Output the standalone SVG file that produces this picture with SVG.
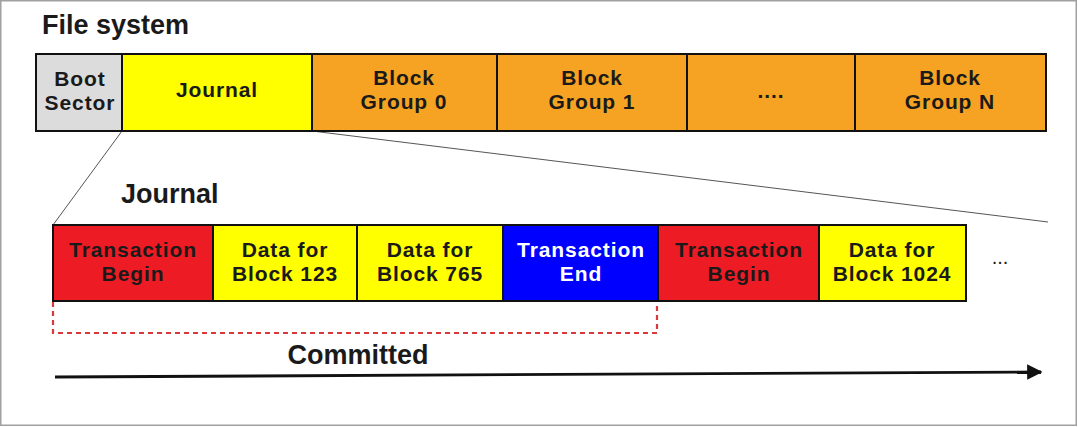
<svg xmlns="http://www.w3.org/2000/svg" width="1078" height="427" viewBox="0 0 1078 427">
<style>
  text { font-family: "Liberation Sans", Arial, sans-serif; font-weight: bold; text-anchor: middle; fill: #1a1a1a; }
  .box { stroke: #111; stroke-width: 2; }
  .gray { fill: #dcdcdc; }
  .yel { fill: #ffff00; }
  .org { fill: #f6a323; }
  .red { fill: #ed1c24; }
  .blu { fill: #0000ff; }
  .t24 { font-size: 21px; letter-spacing: 0.9px; }
  .title { font-size: 27px; text-anchor: start; }
  .zoom { stroke: #555; stroke-width: 1; fill: none; }
  .wt { fill: #fff; }
</style>
<defs>
  <marker id="ah" viewBox="0 0 10 10" refX="9" refY="5" markerWidth="8" markerHeight="5.5" markerUnits="strokeWidth" orient="auto">
    <path d="M0,0 L10,5 L0,10 z" fill="#111"/>
  </marker>
</defs>
<rect x="0.75" y="0.75" width="1075.5" height="424.5" fill="#fff" stroke="#a0a0a0" stroke-width="1.5"/>

<text class="title" x="42" y="34">File system</text>
<text class="title" x="121" y="203">Journal</text>

<g id="connectors">
  <line class="zoom" x1="122" y1="131" x2="53" y2="225"/>
  <line class="zoom" x1="312" y1="131" x2="1048" y2="222"/>
  <path d="M53,302 V333 H657 V302" fill="none" stroke="#d9393b" stroke-width="2.2" stroke-dasharray="5,4"/>
  <line x1="55" y1="377" x2="1041" y2="372" stroke="#111" stroke-width="2.8" marker-end="url(#ah)"/>
</g>

<g id="boot-sector">
  <rect class="box gray" x="36" y="54" width="86" height="77"/>
  <text class="t24" x="80" y="86">Boot</text>
  <text class="t24" x="80" y="110">Sector</text>
</g>
<g id="journal">
  <rect class="box yel" x="122" y="54" width="190" height="77"/>
  <text class="t24" x="217" y="97">Journal</text>
</g>
<g id="block-group-0">
  <rect class="box org" x="312" y="54" width="185" height="77"/>
  <text class="t24" x="404" y="85">Block</text>
  <text class="t24" x="404" y="109">Group 0</text>
</g>
<g id="block-group-1">
  <rect class="box org" x="497" y="54" width="190" height="77"/>
  <text class="t24" x="592" y="85">Block</text>
  <text class="t24" x="592" y="109">Group 1</text>
</g>
<g id="block-group-dots">
  <rect class="box org" x="687" y="54" width="168" height="77"/>
  <text class="t24" x="771" y="98">....</text>
</g>
<g id="block-group-n">
  <rect class="box org" x="855" y="54" width="191" height="77"/>
  <text class="t24" x="950" y="85">Block</text>
  <text class="t24" x="950" y="109">Group N</text>
</g>

<g id="tx-begin-1">
  <rect class="box red" x="53" y="225" width="160" height="76"/>
  <text class="t24" x="133" y="257">Transaction</text>
  <text class="t24" x="133" y="281">Begin</text>
</g>
<g id="data-123">
  <rect class="box yel" x="213" y="225" width="144" height="76"/>
  <text class="t24" x="285" y="257">Data for</text>
  <text class="t24" x="285" y="281">Block 123</text>
</g>
<g id="data-765">
  <rect class="box yel" x="357" y="225" width="146" height="76"/>
  <text class="t24" x="430" y="257">Data for</text>
  <text class="t24" x="430" y="281">Block 765</text>
</g>
<g id="tx-end">
  <rect class="box blu" x="503" y="225" width="155" height="76"/>
  <text class="t24 wt" x="581" y="257">Transaction</text>
  <text class="t24 wt" x="581" y="281">End</text>
</g>
<g id="tx-begin-2">
  <rect class="box red" x="658" y="225" width="161" height="76"/>
  <text class="t24" x="739" y="257">Transaction</text>
  <text class="t24" x="739" y="281">Begin</text>
</g>
<g id="data-1024">
  <rect class="box yel" x="819" y="225" width="147" height="76"/>
  <text class="t24" x="892" y="257">Data for</text>
  <text class="t24" x="892" y="281">Block 1024</text>
</g>
<g id="more">
  <text x="1000" y="264" style="font-size:20px;font-weight:normal">...</text>
</g>

<text x="358" y="364" style="font-size:27px">Committed</text>
</svg>
